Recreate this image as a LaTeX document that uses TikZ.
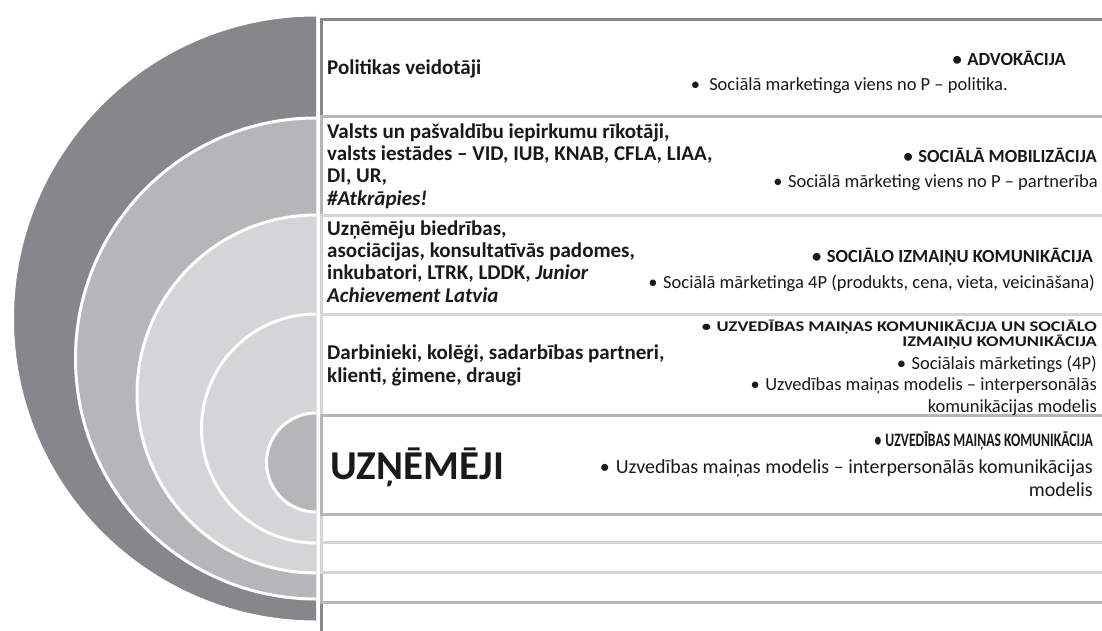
\documentclass[tikz,border=0pt]{standalone}
\usepackage{fontspec}
\setmainfont{Carlito}
\usepackage{graphicx}
\definecolor{gDark}{RGB}{134,135,139}
\definecolor{gMed}{RGB}{181,182,184}
\definecolor{gLight}{RGB}{212,213,214}
\definecolor{txt}{RGB}{25,25,25}
\begin{document}
\begin{tikzpicture}[x=1pt,y=-1pt,
  disc/.style={draw=white, line width=3pt},
  band/.style={line width=3pt, fill=white},
  lefttxt/.style={anchor=base west, align=left, font=\fontsize{21}{22.3}\selectfont\bfseries, text=txt, inner sep=0pt},
  righttxt/.style={anchor=base east, align=right, inner sep=0pt, text=txt, font=\fontsize{18.5}{21.5}\selectfont},
  head/.style={righttxt, font=\fontsize{18.5}{21.5}\selectfont\bfseries}]
\useasboundingbox[fill=white] (0,0) rectangle (1102,631);
% panel rectangles
\draw[band, draw=gDark]  (321,20)  rectangle (1130,660);
\draw[band, draw=gMed]   (321,117) rectangle (1130,602);
\draw[band, draw=gLight] (321,215) rectangle (1130,572);
\draw[band, draw=gLight] (321,314) rectangle (1130,542);
\draw[band, draw=gMed]   (321,415) rectangle (1130,514);
% nested half discs
\begin{scope}
\clip (-10,-10) rectangle (316,650);
\filldraw[disc, fill=gDark]  (316,318.5) circle[radius=303.5];
\filldraw[disc, fill=gMed]   (316,358.5) circle[radius=240.5];
\filldraw[disc, fill=gLight] (316,394)   circle[radius=179];
\filldraw[disc, fill=gLight] (316,428.5) circle[radius=114.5];
\filldraw[disc, fill=gMed]   (316,462.5) circle[radius=49.5];
\end{scope}
% row 1
\node[lefttxt] (l1) at (327,75) {Politikas veidotāji};
\node[head] (h1) at (1066,66) {•\hspace{0.3em}ADVOKĀCIJA};
\node[righttxt] (b1) at (1008,91) {•\hspace{0.5em}Sociālā marketinga viens no P – politika.};
% row 2 (multi-line nodes are placed at their last baseline)
\node[lefttxt] (l2) at (327,205) {Valsts un pašvaldību iepirkumu rīkotāji,\\ valsts iestādes – VID, IUB, KNAB, CFLA, LIAA,\\ DI, UR,\\ \textit{\#Atkrāpies!}};
\node[head] (h2) at (1097,163) {•\hspace{0.3em}SOCIĀLĀ MOBILIZĀCIJA};
\node[righttxt] (b2) at (1098,187) {•\hspace{0.3em}Sociālā mārketing viens no P – partnerība};
% row 3
\node[lefttxt] (l3) at (327,302) {Uzņēmēju biedrības,\\ asociācijas, konsultatīvās padomes,\\ inkubatori, LTRK, LDDK, \textit{Junior}\\ \textit{Achievement Latvia}};
\node[head] (h3) at (1093,262) {•\hspace{0.3em}SOCIĀLO IZMAIŅU KOMUNIKĀCIJA};
\node[righttxt] (b3) at (1095,288) {•\hspace{0.3em}Sociālā mārketinga 4P (produkts, cena, vieta, veicināšana)};
% row 4
\node[lefttxt, font=\fontsize{21}{23}\selectfont\bfseries] (l4) at (327,382) {Darbinieki, kolēģi, sadarbības partneri,\\ klienti, ģimene, draugi};
\node[head] (h4) at (1097,331) {\scalebox{1}[0.8]{•\hspace{0.3em}UZVEDĪBAS MAIŅAS KOMUNIKĀCIJA UN SOCIĀLO}};
\node[head] (h4b) at (1097,346) {\scalebox{1}[0.8]{IZMAIŅU KOMUNIKĀCIJA}};
\node[righttxt] (b4) at (1097,412) {•\hspace{0.3em}Sociālais mārketings (4P)\\ •\hspace{0.3em}Uzvedības maiņas modelis – interpersonālās\\ komunikācijas modelis};
% row 5
\node[anchor=base west, inner sep=0pt, text=txt, font=\fontsize{41}{41}\selectfont\bfseries] (l5) at (330,479) {UZŅĒMĒJI};
\node[head, font=\fontsize{19}{21}\selectfont\bfseries] (h5) at (1093,446) {\scalebox{0.72}[1]{•\hspace{0.3em}UZVEDĪBAS MAIŅAS KOMUNIKĀCIJA}};
\node[righttxt, font=\fontsize{20}{22.5}\selectfont] (b5) at (1093,496) {•\hspace{0.3em}Uzvedības maiņas modelis – interpersonālās komunikācijas\\ modelis};
\end{tikzpicture}
\end{document}
